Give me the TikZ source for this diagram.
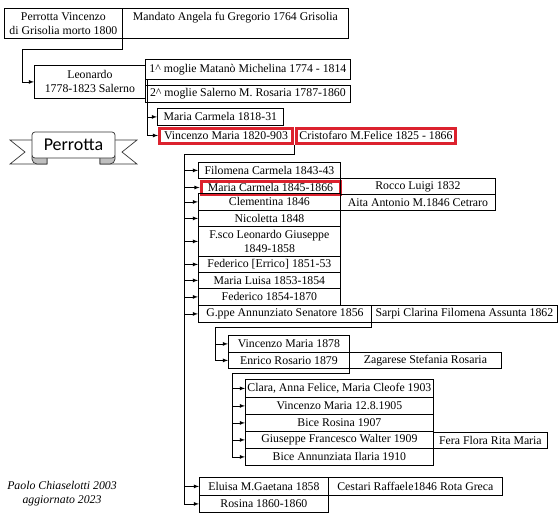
\documentclass[tikz,border=0pt]{standalone}
\usepackage{fontspec}
\setmainfont{Liberation Serif}
\newfontfamily\nastrofont{Carlito}
\definecolor{rosso}{RGB}{220,34,46}
\tikzset{
    persona/.style args={#1/#2}{draw, inner sep=0pt, anchor=north west, align=center,
        minimum width=#1pt, minimum height=#2pt},
    evidenza/.style args={#1/#2}{persona=#1/#2, draw=rosso, line width=3pt},
    freccia/.style={-latex}
}

\begin{document}
\begin{tikzpicture}[x=1pt, y=-1pt, line width=0.8pt, font=\fontsize{11.8}{14}\selectfont]
		\useasboundingbox (0,0) rectangle (560,520);

		% capostipite
		\node[persona=118/30] (vincenzo) at (4,8) {Perrotta Vincenzo\\di Grisolia morto 1800};
		\node[persona=226/30] (mandato) at (122,8) {Mandato Angela fu Gregorio 1764 Grisolia\\\mbox{}};

		% Leonardo e mogli
		\node[persona=111/33] (leonardo) at (34,65) {Leonardo\\1778-1823 Salerno};
		\node[persona=205/20] (moglie1) at (145,59) {1\textasciicircum{} moglie Matanò Michelina 1774 - 1814};
		\node[persona=205/17] (moglie2) at (145,85) {2\textasciicircum{} moglie Salerno M. Rosaria 1787-1860};
		\node[persona=126/17] (carmela1818) at (157,108) {Maria Carmela 1818-31};
		\node[evidenza=133/15] (vincenzo1820) at (158,126.5) {Vincenzo Maria 1820-903};
		\node[evidenza=159/15] (cristofaro) at (295,126.5) {Cristofaro M.Felice 1825 - 1866};
		\coordinate (k1) at (22,49);
		\draw[freccia] (vincenzo.south east) |- (k1) |- (leonardo.west);
		\coordinate (k2) at ([xshift=2pt]moglie1.south west);
		\draw[freccia] (k2) |- (carmela1818.west);
		\draw[freccia] (k2) |- (vincenzo1820.west);

		% figli di Vincenzo Maria
		\node[persona=142/16] (filomena) at (198,162) {Filomena Carmela 1843-43};
		\node[evidenza=139/13] (carmela) at (199.5,179.5) {Maria Carmela 1845-1866};
		\node[persona=155/16] (rocco) at (340,178) {Rocco Luigi 1832};
		\node[persona=142/17] (clementina) at (198,193) {Clementina 1846};
		\node[persona=155/16] (aita) at (340,194) {Aita Antonio M.1846 Cetraro};
		\node[persona=142/16] (nicoletta) at (198,210) {Nicoletta 1848};
		\node[persona=142/30] (francesco) at (198,226) {F.sco Leonardo Giuseppe\\1849-1858};
		\node[persona=142/16] (errico) at (198,256) {Federico [Errico] 1851-53};
		\node[persona=142/16] (luisa) at (198,272) {Maria Luisa 1853-1854};
		\node[persona=142/17] (federico) at (198,288) {Federico 1854-1870};
		\node[persona=173/17] (giuseppe) at (198,305) {G.ppe Annunziato Senatore 1856};
		\node[persona=186/17] (sarpi) at (371,305) {Sarpi Clarina Filomena Assunta 1862};
		\node[persona=129/18] (eluisa) at (199,477) {Eluisa M.Gaetana 1858};
		\node[persona=174/18] (cestari) at (328,477) {Cestari Raffaele1846 Rota Greca};
		\node[persona=129/17] (rosina) at (199,495) {Rosina 1860-1860};
		\coordinate (k3) at (184,154);
		\draw (vincenzo1820.south east) |- (k3);
		\foreach \f in {filomena,carmela,clementina,nicoletta,francesco,errico,luisa,federico,giuseppe,eluisa,rosina}
			\draw[freccia] (k3) |- (\f.west);

		% figli di G.ppe Annunziato
		\node[persona=121/17] (vincenzo1878) at (228,335) {Vincenzo Maria 1878};
		\node[persona=121/16] (enrico) at (228,352) {Enrico Rosario 1879};
		\node[persona=152/16] (zagarese) at (349,352) {Zagarese Stefania Rosaria};
		\coordinate (k4) at (215,327);
		\draw (giuseppe.south east) |- (k4);
		\foreach \f in {vincenzo1878,enrico}
			\draw[freccia] (k4) |- (\f.west);

		% figli di Enrico Rosario
		\node[persona=188/18] (clara) at (245,379) {Clara, Anna Felice, Maria Cleofe 1903};
		\node[persona=188/17] (vincenzo1905) at (245,397) {Vincenzo Maria 12.8.1905};
		\node[persona=188/17] (bice1907) at (245,414) {Bice Rosina 1907};
		\node[persona=188/17] (walter) at (245,431) {Giuseppe Francesco Walter 1909};
		\node[persona=114/16] (fera) at (433,432) {Fera Flora Rita Maria};
		\node[persona=188/17] (bice1910) at (245,448) {Bice Annunziata Ilaria 1910};
		\coordinate (k5) at (232,373);
		\draw (enrico.south east) |- (k5);
		\foreach \f in {clara,vincenzo1905,bice1907,walter,bice1910}
			\draw[freccia] (k5) |- (\f.west);

		% nastro
		\begin{scope}[line width=0.7pt, draw=black!80]
			\draw[fill=white] (40,140) -- (10,140) -- (25,152) -- (10,164) -- (47,164) -- (47,150);
			\draw[fill=white] (107,140) -- (137,140) -- (122,152) -- (137,164) -- (100,164) -- (100,150);
			\draw[fill=black!25] (47,156) -- (47,164) -- (37,164) to[out=180,in=-90] (32,159) -- (32,156) -- cycle;
			\draw[fill=black!25] (100,156) -- (100,164) -- (110,164) to[out=0,in=-90] (115,159) -- (115,156) -- cycle;
			\draw[fill=white, rounded corners=3pt] (32,158) -- (32,132) -- (115,132) -- (115,158) -- cycle;
		\end{scope}
		\node[font=\nastrofont\fontsize{18}{20}\selectfont] (nastro) at (73.5,145) {Perrotta};

		% autore
		\node[font=\itshape\fontsize{11.8}{14}\selectfont, align=center] (autore) at (62,494) {Paolo Chiaselotti 2003\\aggiornato 2023};
	\end{tikzpicture}
\end{document}
